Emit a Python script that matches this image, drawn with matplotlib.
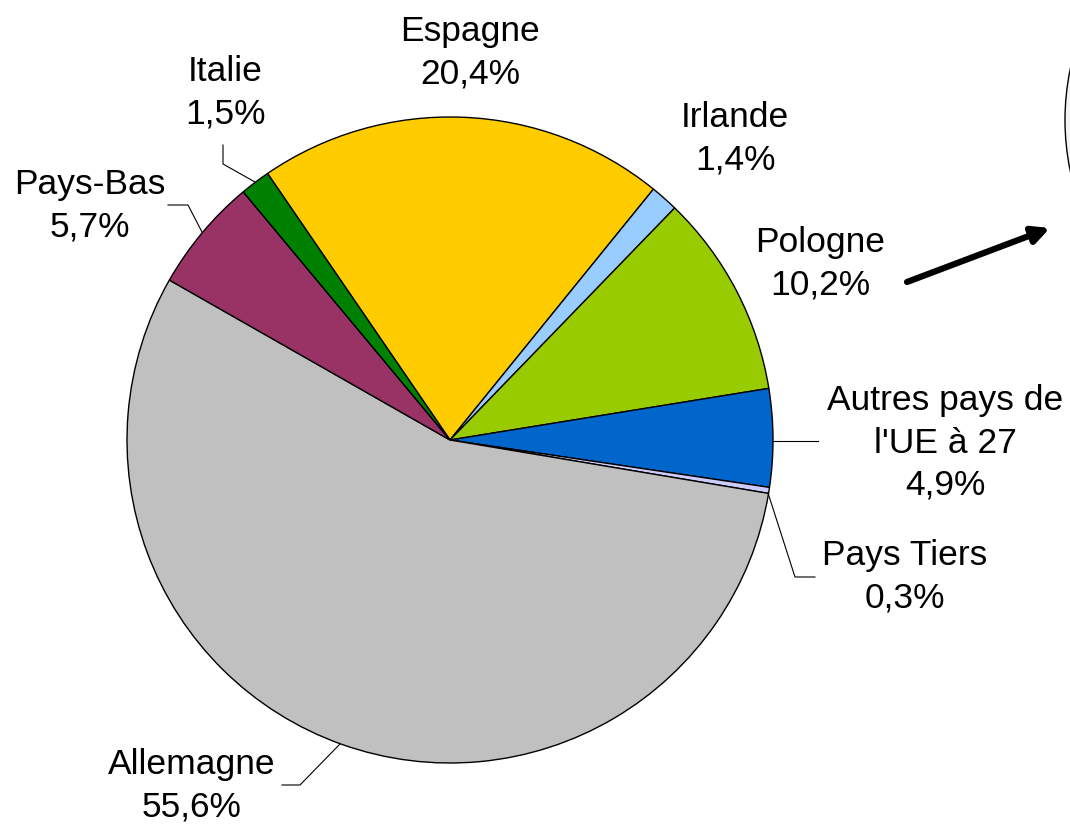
import matplotlib.pyplot as plt
from matplotlib.patches import Circle

plt.rcParams['font.family'] = ['Liberation Sans', 'DejaVu Sans']

# ------------------------------
# Data (clockwise from Espagne)
# ------------------------------
pays = ["Espagne", "Irlande", "Pologne", "Autres pays de\nl'UE à 27",
        "Pays Tiers", "Allemagne", "Pays-Bas", "Italie"]
parts = [20.4, 1.4, 10.2, 4.9, 0.3, 55.6, 5.7, 1.5]
etiquettes = ["20,4%", "1,4%", "10,2%", "4,9%", "0,3%", "55,6%", "5,7%", "1,5%"]
couleurs = ["#FFCC00", "#99CCFF", "#99CC00", "#0066CC",
            "#CCCCFF", "#C0C0C0", "#993366", "#008000"]

W, H = 1070, 824

fig = plt.figure(figsize=(W / 100, H / 100), dpi=100)
ax = fig.add_axes([0, 0, 1, 1])

def py(y):
    # pixel row (top-down) -> data y (bottom-up)
    return H - y

cx, cy, r = 450, py(440), 323

ax.pie(parts, colors=couleurs, startangle=124.4, counterclock=False,
       center=(cx, cy), radius=r, frame=True,
       wedgeprops=dict(edgecolor="black", linewidth=1.0))
ax.set_xlim(0, W)
ax.set_ylim(0, H)
ax.set_aspect("equal")
ax.axis("off")

# label positions (pixel coords of text center)
pos = {
    "Espagne": (470, 53),
    "Irlande": (735, 139),
    "Pologne": (820, 264),
    "Autres pays de\nl'UE à 27": (945, 443),
    "Pays Tiers": (905, 577),
    "Allemagne": (192, 786),
    "Pays-Bas": (90, 206),
    "Italie": (225, 93),
}
for nom, lab in zip(pays, etiquettes):
    x, y = pos[nom]
    ax.text(x, py(y), nom + "\n" + lab, ha="center", va="center",
            fontsize=25.5, linespacing=1.36, color="black")

# leader lines
leaders = [
    [(223, 145), (223, 164), (255, 182)],
    [(168, 205), (188, 205), (202, 232)],
    [(773, 441), (818, 441)],
    [(768, 493), (795, 577), (815, 577)],
    [(282, 785), (300, 785), (340, 744)],
]
for pts in leaders:
    ax.plot([p[0] for p in pts], [py(p[1]) for p in pts],
            color="black", linewidth=0.8)

# arrow toward the second pie
ax.annotate("", xy=(1050, py(228)), xytext=(907, py(282)),
            arrowprops=dict(arrowstyle="-|>,head_length=1.0,head_width=0.5",
                            color="black", linewidth=4.5, shrinkA=0, shrinkB=0))

# edge of the second pie (cut off)
ax.add_patch(Circle((1315, py(120)), 250, facecolor="#F4F4F4",
                    edgecolor="black", linewidth=1.0))

fig.savefig("out.png", dpi=100)
